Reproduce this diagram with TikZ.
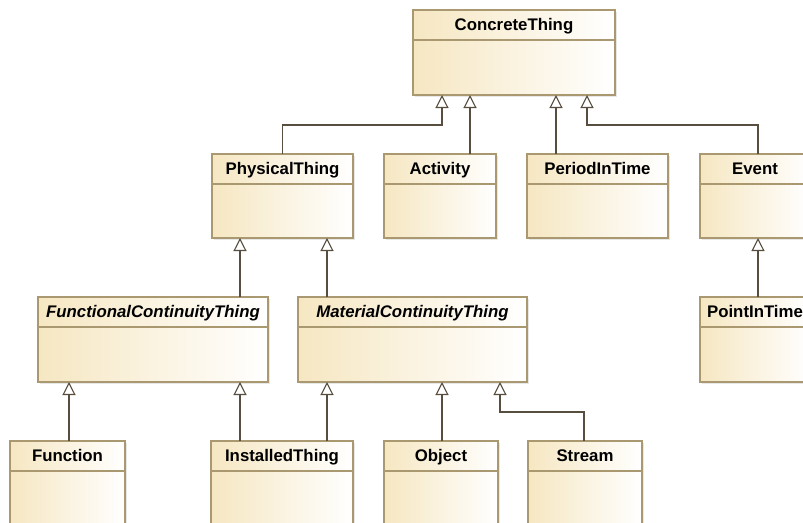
\documentclass[tikz,border=0pt]{standalone}
\usepackage{fontspec}
\setmainfont{Liberation Sans}
\usetikzlibrary{arrows.meta,shadows}

\definecolor{classfill}{RGB}{246,231,194}
\definecolor{classedge}{RGB}{170,152,112}
\definecolor{genline}{RGB}{88,78,64}

\tikzset{
  classbox/.style={rectangle, draw=classedge, line width=1.2pt, left color=classfill,
    right color=white, inner sep=0pt, outer sep=0pt, anchor=north west,
    drop shadow={shadow xshift=1.6pt, shadow yshift=-1.6pt, fill=black!18}},
  classtitle/.style={font=\fontsize{16.8}{18}\selectfont\bfseries, text=black,
    inner sep=0pt, anchor=base},
  headline/.style={draw=classedge, line width=1.2pt},
  gen/.style={draw=genline, line width=1.4pt,
    -{Triangle[open, length=13pt, width=13pt, line width=1.1pt]}},
}

% class box: name, left x, top y, width, height, title
\newcommand\umlclass[6]{%
  \node[classbox, minimum width=#4pt, minimum height=#5pt] (#1) at (#2,#3) {};
  \draw[headline] ([yshift=-30pt]#1.north west) -- ([yshift=-30pt]#1.north east);
  \node[classtitle] (#1-title) at ([yshift=-20.5pt]#1.north) {#6};
}

\begin{document}
\begin{tikzpicture}[x=1pt, y=-1pt]
  \useasboundingbox (0,0) rectangle (803,522);
  \clip (0,0) rectangle (803,522);
  \fill[white] (0,0) rectangle (803,522);

  % classes
  \umlclass{ct}{413}{10}{202}{85}{ConcreteThing}
  \umlclass{pt}{212}{154}{141}{84}{PhysicalThing}
  \umlclass{act}{384}{154}{112}{84}{Activity}
  \umlclass{pit}{527}{154}{141}{84}{PeriodInTime}
  \umlclass{ev}{700}{154}{110}{84}{Event}
  \umlclass{fct}{38}{297}{230}{85}{\itshape FunctionalContinuityThing}
  \umlclass{mct}{298}{297}{229}{85}{\itshape MaterialContinuityThing}
  \umlclass{ptime}{700}{297}{110}{85}{PointInTime}
  \umlclass{fn}{10}{441}{115}{100}{Function}
  \umlclass{inst}{211}{441}{142}{100}{InstalledThing}
  \umlclass{obj}{384}{441}{114}{100}{Object}
  \umlclass{str}{528}{441}{114}{100}{Stream}

  % elbow points
  \coordinate (e1) at (442,125);
  \coordinate (e2) at (587,125);
  \coordinate (e3) at (500,412);

  % generalisations
  \draw[gen] (pt.north) |- (e1) -- (e1 |- ct.south);
  \draw[gen] (470,0 |- act.north) -- (470,0 |- ct.south);
  \draw[gen] (556,0 |- pit.north) -- (556,0 |- ct.south);
  \draw[gen] (758,0 |- ev.north) |- (e2) -- (e2 |- ct.south);
  \draw[gen] (240,0 |- fct.north) -- (240,0 |- pt.south);
  \draw[gen] (327,0 |- mct.north) -- (327,0 |- pt.south);
  \draw[gen] (758,0 |- ptime.north) -- (758,0 |- ev.south);
  \draw[gen] (69,0 |- fn.north) -- (69,0 |- fct.south);
  \draw[gen] (240,0 |- inst.north) -- (240,0 |- fct.south);
  \draw[gen] (327,0 |- inst.north) -- (327,0 |- mct.south);
  \draw[gen] (442,0 |- obj.north) -- (442,0 |- mct.south);
  \draw[gen] (584,0 |- str.north) |- (e3) -- (e3 |- mct.south);
\end{tikzpicture}
\end{document}
